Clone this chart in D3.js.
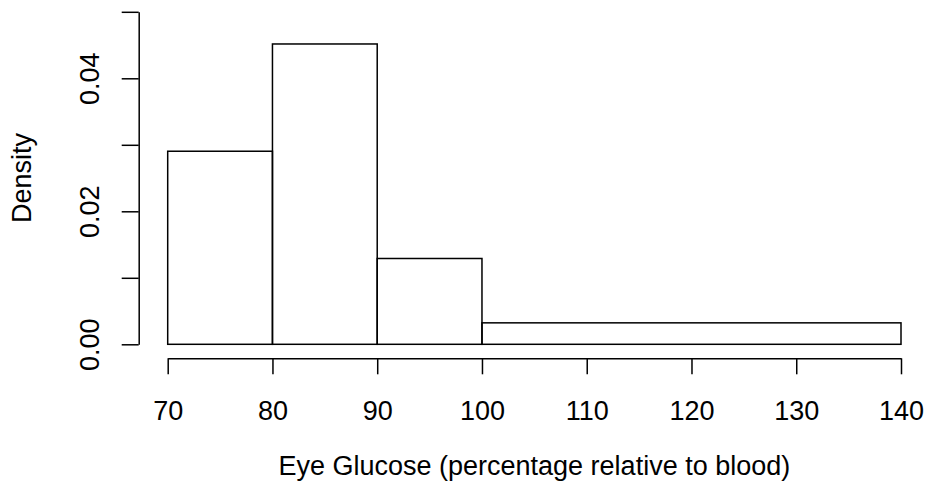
<!DOCTYPE html>
<html><head><meta charset="utf-8">
<script src="https://cdn.jsdelivr.net/npm/d3@7"></script>
<style>body{margin:0;background:#fff}svg text{font-family:"Liberation Sans",Arial,sans-serif;fill:#000}</style>
</head><body>
<svg id="c" width="925" height="491"></svg>
<script>
const binStarts = [70, 80, 90, 100];
const binEnds = [80, 90, 100, 140];
const densities = [9/310, 14/310, 4/310, 4/1240];
const xTicks = [70, 80, 90, 100, 110, 120, 130, 140];
const yTicks = [0, 0.01, 0.02, 0.03, 0.04, 0.05];
const yTickLabels = ["0.00", "", "0.02", "", "0.04", ""];
const xLabel = "Eye Glucose (percentage relative to blood)";
const yLabel = "Density";

const svg = d3.select("#c");
const fs = 27;
const x = d3.scaleLinear().domain([70, 140]).range([167.7, 901]);
const y = d3.scaleLinear().domain([0, 0.05]).range([344.3, 11.8]);

svg.selectAll("rect.bar").data(densities).enter().append("rect")
  .attr("class", "bar")
  .attr("x", (d, i) => x(binStarts[i]))
  .attr("y", d => y(d))
  .attr("width", (d, i) => x(binEnds[i]) - x(binStarts[i]))
  .attr("height", d => y(0) - y(d))
  .attr("fill", "none").attr("stroke", "#000").attr("stroke-width", 1.5);

const xAxis = d3.axisBottom(x).tickValues(xTicks).tickSize(16).tickSizeOuter(0);
const gx = svg.append("g").attr("transform", "translate(0,358.3)").call(xAxis);
gx.selectAll(".domain, .tick line").attr("stroke", "#000").attr("stroke-width", 1.5);
gx.selectAll(".tick text")
  .attr("font-size", fs).attr("font-family", "Liberation Sans, Arial, sans-serif")
  .attr("dy", null).attr("y", 420 - 358.3);

const yAxis = d3.axisLeft(y).tickValues(yTicks).tickFormat((d, i) => yTickLabels[i]).tickSize(17).tickSizeOuter(0);
const gy = svg.append("g").attr("transform", "translate(138.7,0)").call(yAxis);
gy.selectAll(".domain, .tick line").attr("stroke", "#000").attr("stroke-width", 1.5);
gy.selectAll(".tick text")
  .attr("font-size", fs).attr("font-family", "Liberation Sans, Arial, sans-serif")
  .attr("x", null).attr("y", null).attr("dy", null)
  .attr("text-anchor", "middle")
  .attr("transform", "translate(" + (99 - 138.7) + ",0) rotate(-90)");

svg.append("text").attr("x", x(105)).attr("y", 475)
  .attr("text-anchor", "middle").attr("font-size", fs).text(xLabel);
svg.append("text").attr("transform", "translate(31," + y(0.025) + ") rotate(-90)")
  .attr("text-anchor", "middle").attr("font-size", fs).text(yLabel);
</script>
</body></html>
